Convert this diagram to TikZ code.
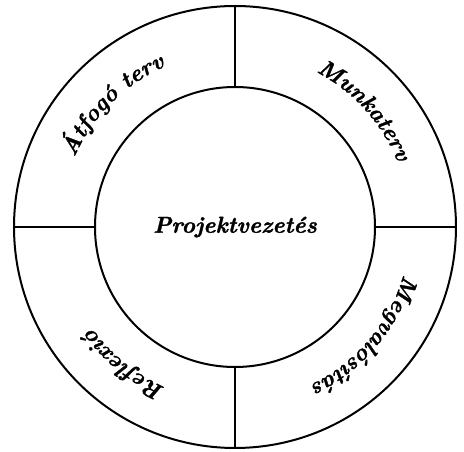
\documentclass[tikz,border=0pt]{standalone}
\usepackage{fontspec}
\usetikzlibrary{decorations.text}

\newfontfamily\ringfam{Latin Modern Roman}[BoldItalicFeatures={FakeBold=1.5}]
\newcommand{\ringfont}{\ringfam\fontsize{23}{27}\selectfont\bfseries\itshape}

\begin{document}
\begin{tikzpicture}[x=1pt, y=1pt,
    ring/.style={circle, draw, line width=2pt, inner sep=0pt, outer sep=0pt},
    divider/.style={line width=2pt},
    arclabel/.style={decorate, decoration={text along path, text align=center, text={|\ringfont|#1}}}
  ]
  \useasboundingbox (-235,-225) rectangle (229,227);

  % --- two rings ---
  \node[ring, minimum size=442pt] (outer) at (0,0) {};
  \node[ring, minimum size=280pt, font=\ringfont] (inner) at (0,0) {Projektvezetés};

  % --- dividers ---
  \draw[divider] (inner.north) -- (outer.north);
  \draw[divider] (inner.east) -- (outer.east);
  \draw[divider] (inner.south) -- (outer.south);
  \draw[divider] (inner.west) -- (outer.west);

  % --- quadrant labels, clockwise ---
  \path[arclabel={Átfogó terv}] (180:175) arc[start angle=180, end angle=90, radius=175];
  \path[arclabel={Munkaterv}] (87:175) arc[start angle=87, end angle=-3, radius=175];
  \path[arclabel={Megvalósítás}] (5:175) arc[start angle=5, end angle=-85, radius=175];
  \path[arclabel={Reflexió}] (-84:175) arc[start angle=-84, end angle=-174, radius=175];
\end{tikzpicture}
\end{document}
